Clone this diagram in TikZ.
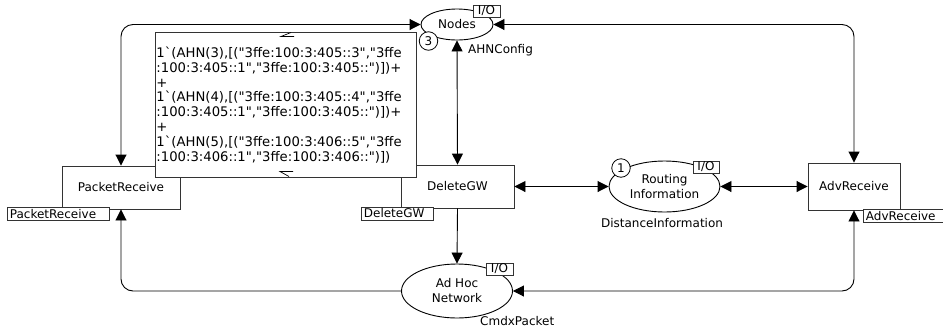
\documentclass[tikz,border=0pt]{standalone}
\usepackage{fontspec}
\setmainfont{DejaVu Sans}
\newfontfamily\markfont{DejaVu Sans}
\usetikzlibrary{arrows.meta,shapes.geometric}
\begin{document}
\begin{tikzpicture}[x=1pt,y=-1pt,
  every node/.style={font=\fontsize{12}{15}\selectfont, inner sep=0pt},
  trans/.style={draw=black!80, fill=white, line width=0.9pt},
  place/.style={draw, ellipse, fill=white, line width=0.9pt, align=center},
  iotag/.style={draw=black!80, fill=white, line width=0.8pt, minimum width=27, minimum height=12},
  nametag/.style={draw=black!80, fill=white, line width=0.8pt, minimum height=13, inner xsep=2.5pt, align=left, anchor=north west},
  tok/.style={draw, circle, fill=white, line width=0.8pt, minimum size=18.5},
  arc/.style={line width=0.9pt, -{Triangle[length=11pt,width=11pt]}, rounded corners=12pt},
  darc/.style={line width=0.9pt, {Triangle[length=11pt,width=11pt]}-{Triangle[length=11pt,width=11pt]}, rounded corners=12pt},
  lbl/.style={}
]
\useasboundingbox (0,0) rectangle (943,333);

% transitions
\node[trans, minimum width=118, minimum height=43] (pr) at (121,187.5) {PacketReceive};
\node[trans, minimum width=113, minimum height=43] (dg) at (457.5,186.5) {DeleteGW};
\node[trans, minimum width=92, minimum height=47] (adv) at (854,186.5) {AdvReceive};

% places
\node[place, minimum width=72, minimum height=31] (nodes) at (457,24.5) {Nodes};
\node[place, minimum width=111, minimum height=51] (rt) at (664.5,186.5) {Routing\\Information};
\node[place, minimum width=111, minimum height=54] (ah) at (457,291) {Ad Hoc\\Network};

% connectors
\draw[darc] (pr.north) |- (nodes.west);
\draw[darc] (nodes.east) -| (adv.north);
\draw[darc] (nodes.south) -- (dg.north);
\draw[darc] (dg.east) -- (rt.west);
\draw[darc] (rt.east) -- (adv.west);
\draw[arc] (dg.south) -- (ah.north);
\draw[arc] (ah.west) -| (pr.south);
\draw[darc] (ah.east) -| (adv.south);

% initial marking
\node[draw=black!80, fill=white, line width=0.9pt, minimum width=261, minimum height=145,
      text width=259, inner xsep=1pt, align=left, anchor=north west,
      font=\markfont\fontsize{13.2}{14.86}\selectfont] (mark) at (155,32)
{1`(AHN(3),[("3ffe:100:3:405::3","3ffe\\
:100:3:405::1","3ffe:100:3:405::")])+\\
+\\
1`(AHN(4),[("3ffe:100:3:405::4","3ffe\\
:100:3:405::1","3ffe:100:3:405::")])+\\
+\\
1`(AHN(5),[("3ffe:100:3:406::5","3ffe\\
:100:3:406::1","3ffe:100:3:406::")])};
\draw[line width=0.7pt] (291,32.5) -- (281,36.5) -- (294,36.5);
\draw[line width=0.7pt] (293,171.5) -- (280,171.5) -- (289,176.5);

% tokens
\node[tok] (t3) at (428.5,41) {3};
\node[tok] (t1) at (621,168) {1};

% I/O tags
\node[iotag] (io1) at (486.5,11) {I/O};
\node[iotag, minimum width=26] (io2) at (706,167) {I/O};
\node[iotag] (io3) at (499.5,269) {I/O};

% name tags
\node[nametag, text width=97] (prt) at (7,207) {PacketReceive};
\node[nametag, text width=67] (dgt) at (361,206.5) {DeleteGW};
\node[nametag, text width=75] (advt) at (863,209) {AdvReceive};

% type labels
\node[lbl, anchor=west] (ahncfg) at (468,50.5) {AHNConfig};
\node[lbl] (distinfo) at (662,223.5) {DistanceInformation};
\node[lbl, anchor=west] (cmdx) at (480,321.5) {CmdxPacket};
\end{tikzpicture}
\end{document}
